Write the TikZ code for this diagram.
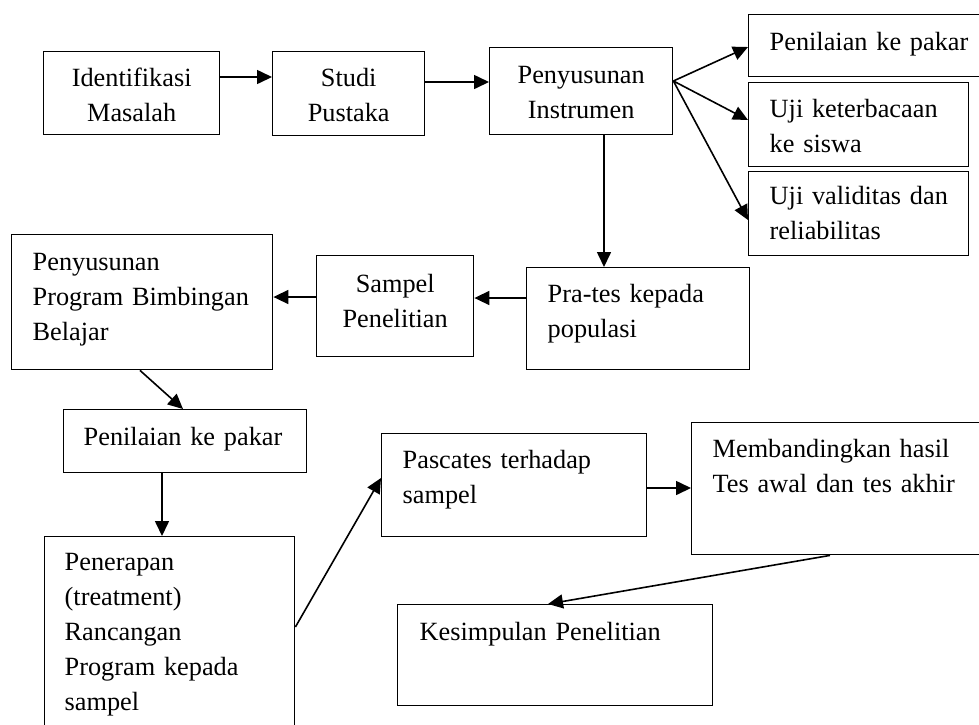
\documentclass[tikz,border=0pt]{standalone}
\usepackage{fontspec}
\setmainfont{Liberation Serif}
\usetikzlibrary{arrows.meta,calc}
\newcommand{\lbtext}[2]{{\raggedright\leftskip=#1\relax\parindent=0pt #2\par}}
\begin{document}
\begin{tikzpicture}[x=1pt,y=-1pt,
  box/.style={draw, line width=1.4pt, inner ysep=0pt, inner xsep=0pt, anchor=north west,
    font=\fontsize{26.3}{35}\selectfont},
  lbox/.style={box},
  cbox/.style={box, align=center},
  arr/.style={line width=1.6pt, -{Triangle[length=15pt,width=14pt]}},
]
\useasboundingbox (0,0) rectangle (979,724);
\clip (0,0) rectangle (979,724);

% top row
\node[cbox, text width=176pt, text height=35pt, text depth=48pt] (idm) at (43,51) {Identifikasi\\Masalah};
\node[cbox, text width=152pt, text height=35pt, text depth=49pt] (stp) at (272,51) {Studi\\Pustaka};
\node[cbox, text width=183pt, text height=36pt, text depth=51pt] (psi) at (489,47) {Penyusunan\\Instrumen};

% right column
\node[lbox, text width=260pt, text height=36pt, text depth=26pt] (pkpa) at (748,14) {\lbtext{21pt}{Penilaian ke pakar}};
\node[lbox, text width=220pt, text height=35pt, text depth=49pt] (ujk) at (748,82) {\lbtext{21pt}{Uji keterbacaan\\ke siswa}};
\node[lbox, text width=220pt, text height=33pt, text depth=51pt] (ujv) at (748,171) {\lbtext{21pt}{Uji validitas dan\\reliabilitas}};

% second row
\node[lbox, text width=223pt, text height=35pt, text depth=67pt] (pra) at (526,267) {\lbtext{21pt}{Pra-tes kepada\\populasi}};
\node[cbox, text width=157pt, text height=37pt, text depth=64pt] (smp) at (316,255) {Sampel\\Penelitian};
\node[lbox, text width=261pt, text height=36pt, text depth=99pt] (ppb) at (11,234) {\lbtext{21pt}{Penyusunan\\Program Bimbingan\\Belajar}};

% lower part
\node[lbox, text width=243pt, text height=36pt, text depth=27pt] (pkpb) at (63,409) {\lbtext{20pt}{Penilaian ke pakar}};
\node[lbox, text width=250pt, text height=34pt, text depth=186pt] (pnr) at (44,536) {\lbtext{20pt}{Penerapan\\(treatment)\\Rancangan\\Program kepada\\sampel}};
\node[lbox, text width=265pt, text height=35pt, text depth=68pt] (pas) at (381,433) {\lbtext{21pt}{Pascates terhadap\\sampel}};
\node[lbox, text width=320pt, text height=35pt, text depth=97pt] (mbd) at (691,422) {\lbtext{21pt}{Membandingkan hasil\\Tes awal dan tes akhir}};
\node[lbox, text width=315pt, text height=36pt, text depth=65pt] (ksm) at (397,604) {\lbtext{22pt}{Kesimpulan Penelitian}};

% connectors
\draw[arr] ($(idm.north east)+(0,26)$) -- ($(stp.north west)+(0,26)$);
\draw[arr] ($(stp.north east)+(0,31)$) -- ($(psi.north west)+(0,35)$);
\draw[arr] ($(psi.north east)+(0,34)$) -- ($(pkpa.north west)+(0,33)$);
\draw[arr] ($(psi.north east)+(0,34)$) -- ($(ujk.north west)+(0,38)$);
\draw[arr] ($(psi.north east)+(0,34)$) -- ($(ujv.north west)+(0,49)$);
\draw[arr] ($(psi.south west)+(115,0)$) -- ($(pra.north west)+(78,0)$);
\draw[arr] ($(pra.north west)+(0,31)$) -- ($(smp.north east)+(0,43)$);
\draw[arr] ($(smp.north west)+(0,42)$) -- ($(ppb.north east)+(0,63)$);
\draw[arr] ($(ppb.south west)+(129,0)$) -- ($(pkpb.north west)+(120,0)$);
\draw[arr] ($(pkpb.south west)+(99,0)$) -- ($(pnr.north west)+(118,0)$);
\draw[arr] ($(pnr.north east)+(0,91)$) -- ($(pas.north west)+(0,45)$);
\draw[arr] ($(pas.north east)+(0,55)$) -- ($(mbd.north west)+(0,66)$);
\draw[arr] ($(mbd.south west)+(139,0)$) -- ($(ksm.north west)+(151,0)$);
\end{tikzpicture}
\end{document}
